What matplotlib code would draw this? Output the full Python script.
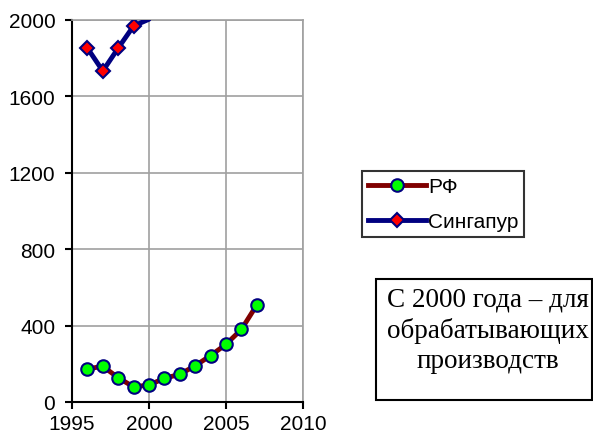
import matplotlib
matplotlib.use("Agg")
import matplotlib.pyplot as plt
from matplotlib.patches import Rectangle
from matplotlib.lines import Line2D

years_rf = [1996, 1997, 1998, 1999, 2000, 2001, 2002, 2003, 2004, 2005, 2006, 2007]
values_rf = [173, 187, 127, 79, 89, 124, 145, 190, 243, 302, 380, 508]
years_sg = [1996, 1997, 1998, 1999, 2000]
values_sg = [1853, 1733, 1853, 1969, 2004]
labels = ["РФ", "Сингапур"]
note = "С 2000 года – для\nобрабатывающих\nпроизводств"

W, H = 593, 435
fig = plt.figure(figsize=(W / 100, H / 100), dpi=100)
ax = fig.add_axes([72 / W, 1 - 403 / H, (303 - 72) / W, (403 - 21) / H])

ymax = 2000
ax.plot(years_rf, values_rf, color="#800000", lw=3.5, marker="o", ms=9,
        mfc="#00FF00", mec="#000080", mew=1.5, label=labels[0], zorder=3,
        solid_capstyle="round")
sg_mark = [i for i, v in enumerate(values_sg) if v < ymax]
ax.plot(years_sg, values_sg, color="#000080", lw=3.5, marker="D", ms=7,
        mfc="#FF0000", mec="#000080", mew=1.5, label=labels[1], zorder=3,
        solid_capstyle="round", markevery=sg_mark)

ax.set_xlim(1995, 2010)
ax.set_ylim(0, ymax)
ax.set_xticks([1995, 2000, 2005, 2010])
ax.set_yticks([0, 400, 800, 1200, 1600, 2000])
ax.grid(True, color="#A0A0A0", lw=1.2)
ax.set_axisbelow(True)
for s in ["top", "right"]:
    ax.spines[s].set_color("#A0A0A0")
    ax.spines[s].set_linewidth(1.2)
for s in ["left", "bottom"]:
    ax.spines[s].set_color("black")
    ax.spines[s].set_linewidth(1.5)
ax.tick_params(direction="out", length=5, width=1.5, labelsize=15)
ax.tick_params(axis="y", pad=7)
ax.tick_params(axis="x", pad=4)
for t in ax.get_xticklabels() + ax.get_yticklabels():
    t.set_fontfamily("Liberation Sans")

handles = [
    Line2D([], [], color="#800000", lw=3.5, marker="o", ms=9, mfc="#00FF00", mec="#000080", mew=1.5),
    Line2D([], [], color="#000080", lw=3.5, marker="D", ms=7, mfc="#FF0000", mec="#000080", mew=1.5),
]
leg = fig.legend(handles, labels, loc="upper left",
                 bbox_to_anchor=(362 / W, 1 - 172 / H),
                 prop={"family": "Liberation Sans", "size": 15},
                 frameon=True, fancybox=False, edgecolor="black",
                 handlelength=2.8, handletextpad=0.1, labelspacing=0.8,
                 borderpad=0.28, borderaxespad=0)
leg.get_frame().set_linewidth(1.5)

rect = Rectangle((376 / W, 1 - 401 / H), (592 - 376) / W, (401 - 280) / H,
                 transform=fig.transFigure, fill=False, edgecolor="black", lw=1.5)
fig.add_artist(rect)
fig.text(488 / W, 1 - 331 / H, note, ha="center", va="center",
         family="Liberation Serif", fontsize=19.5, linespacing=1.28)

fig.savefig("out.png", dpi=100)
